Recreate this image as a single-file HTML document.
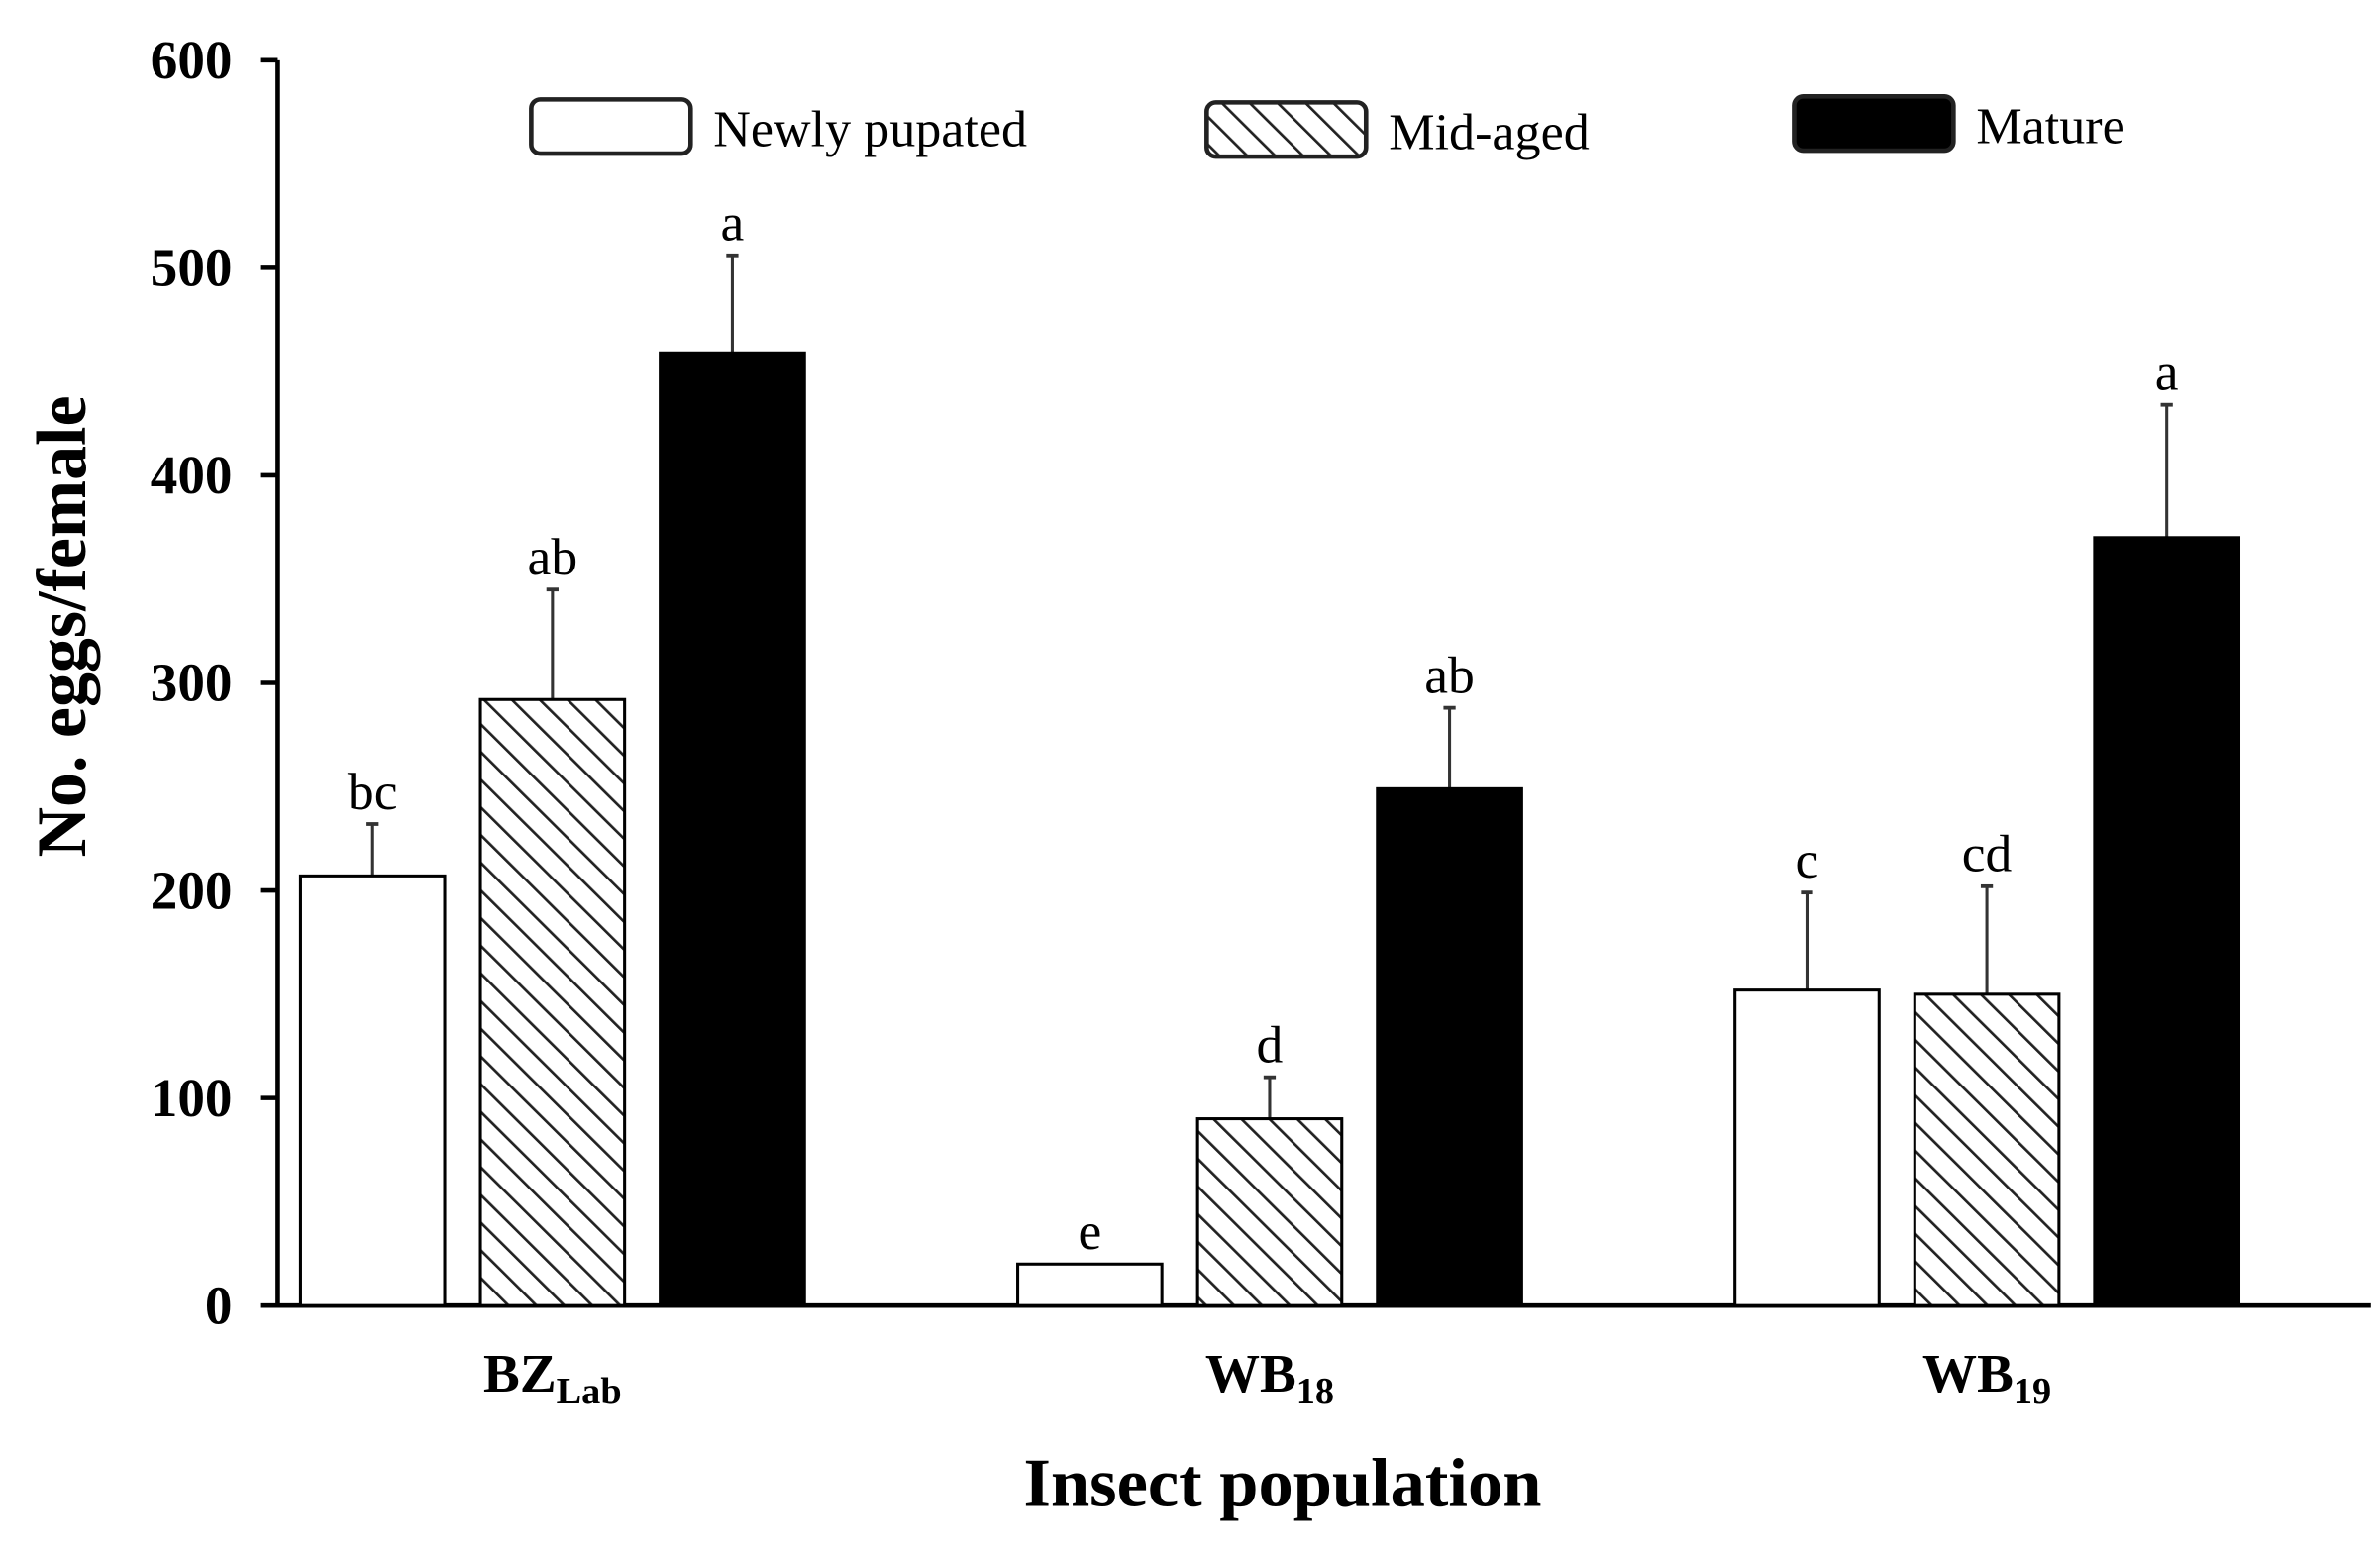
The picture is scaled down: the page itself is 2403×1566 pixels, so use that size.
<!DOCTYPE html>
<html><head><meta charset="utf-8"><style>
html,body{margin:0;padding:0;background:#fff;}
svg{display:block;}
text{font-family:"Liberation Serif",serif;fill:#000;}
</style></head><body>
<svg id="chart" width="2403" height="1566" viewBox="0 0 1568 1030" preserveAspectRatio="none" xmlns="http://www.w3.org/2000/svg">
<defs>
<pattern id="hatch" patternUnits="userSpaceOnUse" width="13" height="13" patternTransform="rotate(-45)">
<rect width="13" height="13" fill="#fff"/>
<line x1="0" y1="0" x2="0" y2="13" stroke="#222" stroke-width="3.5"/>
</pattern>
</defs>
<g id="plot"></g>
</svg>
<script>
const categories = ["BZ", "WB", "WB"];
const catSubs = ["Lab", "18", "19"];
const seriesNames = ["Newly pupated", "Mid-aged", "Mature"];
const newlyValues = [207, 20, 152];
const midValues = [292, 90, 150];
const matureValues = [459, 249, 370];
const newlyErr = [232, 20, 199];
const midErr = [345, 110, 202];
const matureErr = [506, 288, 434];
const newlyLetters = ["bc", "e", "c"];
const midLetters = ["ab", "d", "cd"];
const matureLetters = ["a", "ab", "a"];
const yTicks = [0, 100, 200, 300, 400, 500, 600];

const NS = "http://www.w3.org/2000/svg";
const g = document.getElementById("plot");
const y0 = 867, yTop = 40, yMax = 600;
function yScale(v){ return y0 - (v / yMax) * (y0 - yTop); }
const groupStart = 198, groupStep = 472.5, barStep = 118.5, barW = 95;
function xScale(ci, si){ return groupStart + ci * groupStep + si * barStep; }
function mk(tag, attrs, parent){
  const e = document.createElementNS(NS, tag);
  for (const k in attrs) e.setAttribute(k, attrs[k]);
  (parent || g).appendChild(e);
  return e;
}
const fills = ["#fff", "url(#hatch)", "#000"];
const vals = [newlyValues, midValues, matureValues];
const errs = [newlyErr, midErr, matureErr];
const letters = [newlyLetters, midLetters, matureLetters];

let ax = mk("line", {x1:183, y1:yTop, x2:183, y2:y0+1, stroke:"#000", "stroke-width":3});


ax = mk("line", {x1:181.5, y1:y0, x2:1562, y2:y0, stroke:"#000", "stroke-width":3});


yTicks.forEach(t => {
  const y = yScale(t);
  const tk = mk("line", {x1:172, y1:y, x2:183, y2:y, stroke:"#000", "stroke-width":3});
  
  
  const tl = mk("text", {x:153, y:y+12, "text-anchor":"end", "font-size":36, "font-weight":"bold"});
  tl.textContent = t;
  
  
});

categories.forEach((c, ci) => {
  for (let si = 0; si < 3; si++) {
    const x = xScale(ci, si), v = vals[si][ci], e = errs[si][ci];
    const yv = yScale(v), ye = yScale(e), cx = x + barW/2;
    if (e > v) {
      const el = mk("line", {x1:cx, y1:ye, x2:cx, y2:yv, stroke:"#333", "stroke-width":2});
      
      
      const cap = mk("line", {x1:cx-4, y1:ye, x2:cx+4, y2:ye, stroke:"#333", "stroke-width":2.5});
      
      
    }
    const r = mk("rect", {x:x, y:yv, width:barW, height:y0-yv, fill:fills[si], stroke:"#000", "stroke-width":2});
    
    
    const lt = mk("text", {x:cx, y:Math.min(ye, yv) - 10, "text-anchor":"middle", "font-size":35});
    lt.textContent = letters[si][ci];
    
    
  }
  const lx = xScale(ci, 1) + barW/2;
  const lab = mk("text", {x:lx, y:924, "text-anchor":"middle", "font-size":36, "font-weight":"bold"});
  
  
  lab.appendChild(document.createTextNode(c));
  const sub = mk("tspan", {"font-size":25, dy:8}, lab);
  sub.textContent = catSubs[ci];
});

const legX = [350, 795, 1182], legY = [66, 68, 64];
seriesNames.forEach((n, i) => {
  const b = mk("rect", {x:legX[i], y:legY[i], width:105, height:36, rx:6, fill:fills[i], stroke:"#222", "stroke-width":3});
  
  
  const t = mk("text", {x:legX[i]+120, y:legY[i]+31, "font-size":34});
  t.textContent = n;
  
  
});

let tt = mk("text", {x:845, y:1000, "text-anchor":"middle", "font-size":46, "font-weight":"bold"});
tt.textContent = "Insect population";


tt = mk("text", {x:0, y:0, "text-anchor":"middle", "font-size":46, "font-weight":"bold", transform:"translate(56,416) rotate(-90)"});
tt.textContent = "No. eggs/female";


</script>
</body></html>
